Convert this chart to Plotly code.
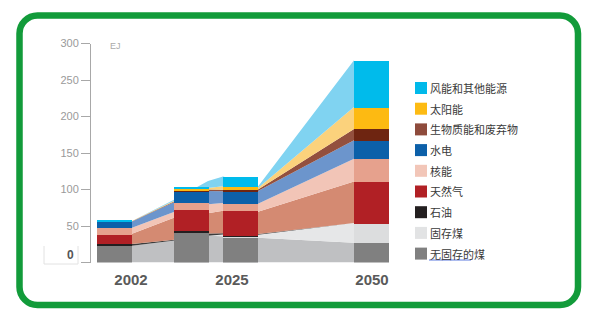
import plotly.graph_objects as go

W, H = 600, 332

# ---------------- data ----------------
series = ["无固存的煤", "固存煤", "石油", "天然气", "核能", "水电",
          "生物质能和废弃物", "太阳能", "风能和其他能源"]
x_labels = ["2002", "2025", "2050"]
y_ticks = [0, 50, 100, 150, 200, 250, 300]

# stacked bars (EJ), four columns: 2002, 2025 (a), 2025 (b), 2050
bar_coal_unabated = [23.5, 40.8, 34.5, 27.0]
bar_coal_ccs      = [0.0, 0.0, 1.8, 27.0]
bar_oil           = [3.0, 3.7, 0.5, 0.0]
bar_gas           = [12.0, 28.4, 34.2, 57.0]
bar_nuclear       = [9.0, 9.0, 10.0, 31.0]
bar_hydro         = [9.0, 15.6, 17.4, 25.5]
bar_biomass       = [1.0, 2.2, 1.9, 15.5]
bar_solar         = [0.0, 1.3, 4.5, 30.0]
bar_wind          = [0.3, 3.5, 13.7, 64.0]

# background stacked area (EJ) at six points along the time line
area_coal_unabated = [23.0, 30.0, 36.7, 36.0, 34.0, 27.0]
area_coal_ccs      = [0.0, 0.0, 0.0, 2.5, 4.0, 27.0]
area_oil           = [2.5, 1.0, 3.0, 1.5, 1.0, 0.0]
area_gas           = [14.0, 30.5, 27.7, 31.0, 30.5, 57.0]
area_nuclear       = [8.0, 8.0, 12.3, 10.5, 11.0, 31.0]
area_hydro         = [8.5, 13.5, 18.2, 16.0, 17.5, 25.5]
area_biomass       = [0.5, 1.0, 2.0, 2.3, 2.0, 15.5]
area_solar         = [0.2, 0.8, 2.0, 4.5, 2.0, 30.0]
area_wind          = [0.3, 1.5, 9.7, 13.5, 2.0, 64.0]

bar_values = [bar_coal_unabated, bar_coal_ccs, bar_oil, bar_gas, bar_nuclear,
              bar_hydro, bar_biomass, bar_solar, bar_wind]
area_values = [area_coal_unabated, area_coal_ccs, area_oil, area_gas, area_nuclear,
               area_hydro, area_biomass, area_solar, area_wind]

# ---------------- layout / style ----------------
bar_pos = [114.5, 191.5, 240.5, 371.5]        # horizontal slots of the columns
bar_width = 35
area_pos = [132, 174.5, 208, 223, 258, 354]    # horizontal slots of area vertices
label_pos = [131, 232, 372]

bar_colors = ["#808080", "#DCDDDE", "#231F20", "#B12025", "#E6A18D",
              "#0C60A9", "#6E2511", "#FDBA12", "#00BBEB"]
area_colors = ["#BFC0C2", "#E6E7E8", "#3C3C3C", "#D48A72", "#F2C5B7",
               "#6C95CC", "#93503E", "#FBD27C", "#80D3F1"]
legend_colors = ["#808080", "#E2E3E4", "#231F20", "#B12025", "#F2C6B8",
                 "#0C60A9", "#8E4B3C", "#FDBB13", "#00B9EA"]

X0, X1 = 91, 400          # plot area in pixels
Y0, Y1 = 262.5, 43.5      # pixel rows of value 0 and value 300


def px(x, y):
    return x / W, 1 - y / H


fig = go.Figure()

for name, vals, col in zip(series, area_values, area_colors):
    fig.add_trace(go.Scatter(x=area_pos, y=vals, stackgroup="area", mode="none",
                             fillcolor=col, name=name, hoverinfo="skip",
                             showlegend=False))

for name, vals, col in zip(series, bar_values, bar_colors):
    fig.add_trace(go.Bar(x=bar_pos, y=vals, width=bar_width, name=name,
                         marker=dict(color=col, line=dict(width=0)),
                         xaxis="x2", yaxis="y2", showlegend=False))

shapes = []
annotations = []

# legend (top item = last series)
row0, row_step = 88.0, 20.7
for i, (name, col) in enumerate(zip(series[::-1], legend_colors[::-1])):
    yc = row0 + i * row_step
    xa, ya = px(415, yc - 6)
    xb, yb = px(427, yc + 6)
    shapes.append(dict(type="rect", xref="paper", yref="paper",
                       x0=xa, x1=xb, y0=yb, y1=ya,
                       fillcolor=col, line=dict(width=0)))
    tx, ty = px(428, yc)
    annotations.append(dict(text=name, xref="paper", yref="paper", x=tx, y=ty,
                            xanchor="left", yanchor="middle", showarrow=False,
                            font=dict(family="Noto Sans CJK SC", size=11,
                                      color="#3A3A3A")))

# blue underline under the last legend label
ua, ub = px(429, 260), px(471, 260)
shapes.append(dict(type="line", xref="paper", yref="paper",
                   x0=ua[0], x1=ub[0], y0=ua[1], y1=ub[1],
                   line=dict(color="#5C7BE0", width=1)))

# faint box around the "0" label
for (xa_, ya_), (xb_, yb_) in [((44, 246), (44, 264)), ((44, 264), (78, 264)),
                                ((78, 246), (78, 264))]:
    p0, p1 = px(xa_, ya_), px(xb_, yb_)
    shapes.append(dict(type="line", xref="paper", yref="paper",
                       x0=p0[0], y0=p0[1], x1=p1[0], y1=p1[1],
                       line=dict(color="#E2E2E2", width=1)))

# green rounded border
L, R, T, B, r = 19.5, 578, 15.5, 305, 18
k = 0.5523 * r
pts = [("M", [(L + r, T)]),
       ("L", [(R - r, T)]),
       ("C", [(R - r + k, T), (R, T + r - k), (R, T + r)]),
       ("L", [(R, B - r)]),
       ("C", [(R, B - r + k), (R - r + k, B), (R - r, B)]),
       ("L", [(L + r, B)]),
       ("C", [(L + r - k, B), (L, B - r + k), (L, B - r)]),
       ("L", [(L, T + r)]),
       ("C", [(L, T + r - k), (L + r - k, T), (L + r, T)])]
path = ""
for cmd, plist in pts:
    path += cmd + " " + " ".join("%.5f,%.5f" % px(x, y) for x, y in plist) + " "
path += "Z"
shapes.append(dict(type="path", xref="paper", yref="paper", path=path,
                   line=dict(color="#129B3A", width=6.5), fillcolor="rgba(0,0,0,0)"))

# "0" label and unit label
zx, zy = px(70, 255)
annotations.append(dict(text="<b>0</b>", xref="paper", yref="paper", x=zx, y=zy,
                        xanchor="center", yanchor="middle", showarrow=False,
                        font=dict(family="Liberation Sans", size=12, color="#555555")))
ex, ey = px(108, 46)
annotations.append(dict(text="EJ", xref="paper", yref="paper", x=ex, y=ey,
                        xanchor="left", yanchor="middle", showarrow=False,
                        font=dict(family="Liberation Sans", size=9, color="#AAAAAA")))

tick_text = ["" if v == 0 else str(v) for v in y_ticks]
ydom = [1 - Y0 / H, 1 - Y1 / H]
xdom = [X0 / W, X1 / W]

fig.update_layout(
    width=W, height=H,
    margin=dict(l=0, r=0, t=0, b=0),
    paper_bgcolor="white", plot_bgcolor="rgba(0,0,0,0)",
    showlegend=False, barmode="stack", bargap=0,
    xaxis=dict(domain=xdom, range=[X0, X1], showgrid=False, zeroline=False,
               showline=False, ticks="", tickvals=label_pos, ticktext=x_labels,
               tickfont=dict(family="Liberation Sans", size=15, color="#5A5A5A",
                             weight="bold"),
               ticklabelstandoff=6, automargin=False, fixedrange=True),
    yaxis=dict(domain=ydom, range=[0, 300], showgrid=False, zeroline=False,
               showline=True, linecolor="#A8A8A8", linewidth=1,
               ticks="outside", ticklen=9, tickcolor="#A8A8A8", tickwidth=1,
               tickvals=y_ticks, ticktext=tick_text,
               tickfont=dict(family="Liberation Sans", size=11, color="#9A9A9A"),
               automargin=False, fixedrange=True),
    xaxis2=dict(overlaying="x", range=[X0, X1], visible=False, fixedrange=True),
    yaxis2=dict(overlaying="y", range=[0, 300], visible=False, fixedrange=True),
    shapes=shapes,
    annotations=annotations,
)

fig.write_html("out.html")
